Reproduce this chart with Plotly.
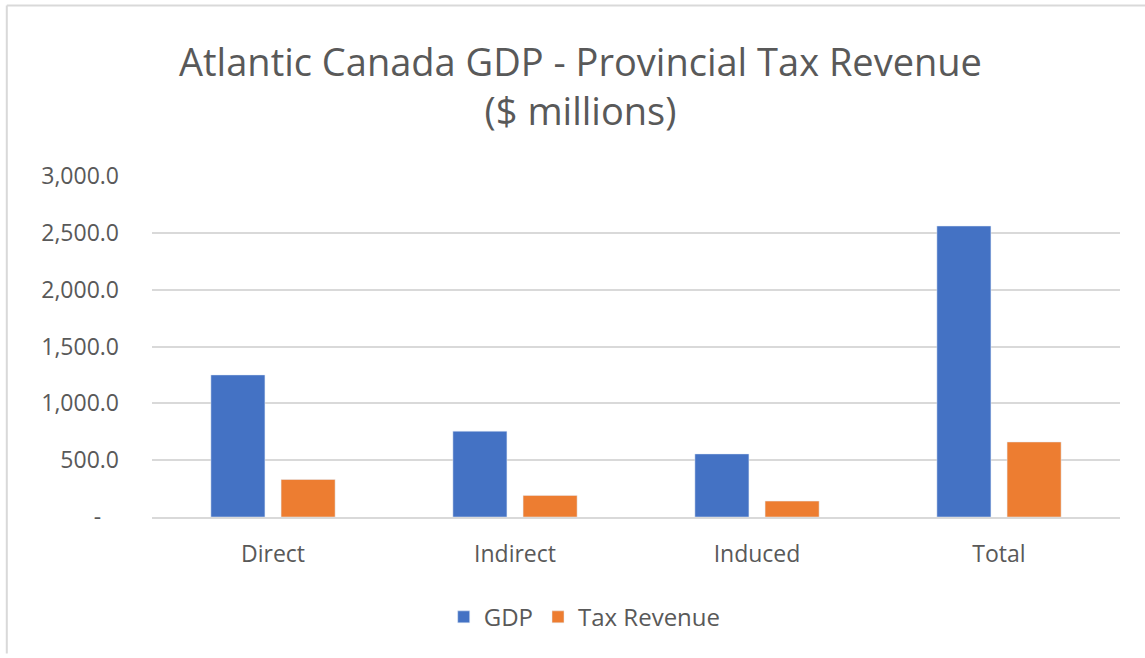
import plotly.graph_objects as go

categories = ["Direct", "Indirect", "Induced", "Total"]
gdp = [1250, 755, 555, 2560]
tax_revenue = [330, 190, 140, 660]

tick_vals = [0, 500, 1000, 1500, 2000, 2500, 3000]
tick_text = ["-\u00a0\u00a0\u00a0", "500.0", "1,000.0", "1,500.0", "2,000.0", "2,500.0", "3,000.0"]

FONT = "Open Sans"
TEXT_GRAY = "#595959"
GRID_GRAY = "#d9d9d9"

fig = go.Figure()
fig.add_trace(go.Bar(name="GDP", x=categories, y=gdp, marker_color="#4472C4"))
fig.add_trace(go.Bar(name="Tax Revenue", x=categories, y=tax_revenue, marker_color="#ED7D31"))

# outer chart border (top and left edges visible)
border = dict(color="#d9d9d9", width=2)
fig.add_shape(type="line", xref="paper", yref="paper", x0=-0.150, x1=1.1, y0=1.500, y1=1.500, line=border)
fig.add_shape(type="line", xref="paper", yref="paper", x0=-0.150, x1=-0.150, y0=1.500, y1=-0.40, line=border)

fig.update_layout(
    width=1145,
    height=658,
    margin=dict(l=152, r=25, t=176, b=141),
    paper_bgcolor="white",
    plot_bgcolor="white",
    barmode="group",
    bargap=0.42,
    bargroupgap=0.23,
    title=dict(
        text="Atlantic Canada GDP - Provincial Tax Revenue<br>($ millions)",
        x=0.507,
        xanchor="center",
        y=0.8845,
        yanchor="middle",
        font=dict(family=FONT, size=38, color=TEXT_GRAY),
    ),
    font=dict(family=FONT, color=TEXT_GRAY),
    xaxis=dict(
        showgrid=False,
        showline=True,
        linecolor=GRID_GRAY,
        linewidth=2,
        tickfont=dict(family=FONT, size=23, color=TEXT_GRAY),
        ticks="",
        ticklabelstandoff=15,
    ),
    yaxis=dict(
        range=[0, 3000],
        tickvals=tick_vals,
        ticktext=tick_text,
        showgrid=True,
        gridcolor=GRID_GRAY,
        gridwidth=2,
        zeroline=False,
        showline=False,
        ticks="",
        tickfont=dict(family=FONT, size=23, color=TEXT_GRAY),
        ticklabelstandoff=32,
    ),
    legend=dict(
        orientation="h",
        x=0.447,
        xanchor="center",
        y=-0.294,
        yanchor="middle",
        font=dict(family=FONT, size=24, color=TEXT_GRAY),
        itemwidth=30,
        traceorder="normal",
    ),
)

fig.write_html("out.html")
